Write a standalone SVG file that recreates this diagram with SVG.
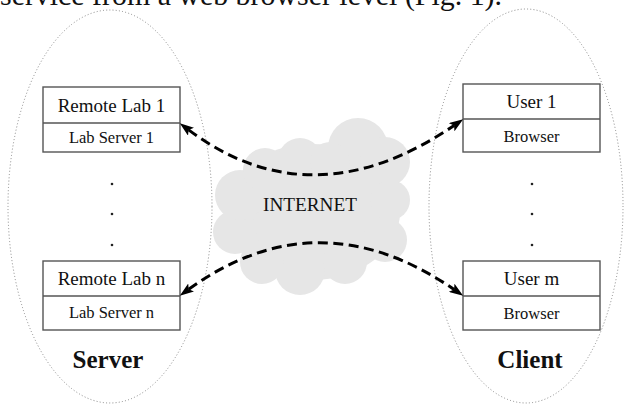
<svg xmlns="http://www.w3.org/2000/svg" width="626" height="405" viewBox="0 0 626 405">
  <style>
    .serif { font-family: "Liberation Serif", "Times New Roman", serif; fill: #111; }
    .box { fill: #fff; stroke: #555; stroke-width: 1.4; }
    .sep { stroke: #555; stroke-width: 1.4; }
    .main { font-size: 19px; text-anchor: middle; }
    .sub { font-size: 16.5px; text-anchor: middle; }
    .side { font-size: 25px; font-weight: bold; text-anchor: middle; }
    .zone { fill: none; stroke: #888; stroke-width: 1; stroke-dasharray: 1 2.2; }
    .cloud { fill: #e6e6e6; }
    .link { fill: none; stroke: #000; stroke-width: 3; stroke-dasharray: 10 5.5; }
    .dot { fill: #222; }
  </style>
  <defs>
    <marker id="arrow" viewBox="0 0 14 10" markerWidth="14" markerHeight="10" refX="3" refY="5" orient="auto-start-reverse" markerUnits="userSpaceOnUse">
      <path d="M0,0 L14,5 L0,10 L3,5 z" fill="#000"/>
    </marker>
  </defs>

  <rect width="626" height="405" fill="#fff"/>

  <!-- running text line above the figure, clipped by the page edge -->
  <text class="serif" x="0" y="5" font-size="29" textLength="502" lengthAdjust="spacingAndGlyphs">service from a web browser level (Fig. 1).</text>

  <!-- server and client zones -->
  <ellipse class="zone" cx="110" cy="206.5" rx="102" ry="196.5"/>
  <ellipse class="zone" cx="526" cy="206" rx="97" ry="197"/>

  <!-- internet cloud -->
  <g id="internet">
    <g class="cloud">
      <ellipse cx="312" cy="212" rx="88" ry="68"/>
      <circle cx="358" cy="148" r="30"/>
      <circle cx="385" cy="162" r="25"/>
      <circle cx="390" cy="200" r="20"/>
      <circle cx="385" cy="240" r="22"/>
      <circle cx="345" cy="262" r="22"/>
      <circle cx="300" cy="270" r="25"/>
      <circle cx="262" cy="262" r="22"/>
      <circle cx="235" cy="232" r="22"/>
      <circle cx="240" cy="195" r="25"/>
      <circle cx="265" cy="170" r="22"/>
      <circle cx="300" cy="160" r="22"/>
      <circle cx="330" cy="162" r="20"/>
    </g>
    <text class="serif" x="310" y="211" font-size="19.2" text-anchor="middle" fill="#222">INTERNET</text>
  </g>

  <!-- lab server nodes -->
  <g id="lab1">
    <rect class="box" x="43" y="87" width="137" height="65"/>
    <line class="sep" x1="43" y1="123" x2="180" y2="123"/>
    <text class="serif main" x="111.5" y="112">Remote Lab 1</text>
    <text class="serif sub" x="111.5" y="143">Lab Server 1</text>
  </g>
  <g id="labn">
    <rect class="box" x="43" y="261" width="137" height="69"/>
    <line class="sep" x1="43" y1="296" x2="180" y2="296"/>
    <text class="serif main" x="111.5" y="285">Remote Lab n</text>
    <text class="serif sub" x="111.5" y="318">Lab Server n</text>
  </g>

  <!-- client nodes -->
  <g id="user1">
    <rect class="box" x="463" y="84" width="137" height="68"/>
    <line class="sep" x1="463" y1="119" x2="600" y2="119"/>
    <text class="serif main" x="531.5" y="108">User 1</text>
    <text class="serif sub" x="531.5" y="142">Browser</text>
  </g>
  <g id="userm">
    <rect class="box" x="463" y="261" width="137" height="69"/>
    <line class="sep" x1="463" y1="296" x2="600" y2="296"/>
    <text class="serif main" x="531.5" y="285">User m</text>
    <text class="serif sub" x="531.5" y="319">Browser</text>
  </g>

  <!-- ellipsis dots between the node rows -->
  <g id="ellipsis">
    <circle class="dot" cx="112" cy="184" r="1.3"/>
    <circle class="dot" cx="112" cy="214" r="1.3"/>
    <circle class="dot" cx="112" cy="245" r="1.3"/>
    <circle class="dot" cx="532" cy="184" r="1.3"/>
    <circle class="dot" cx="532" cy="214" r="1.3"/>
    <circle class="dot" cx="532" cy="245" r="1.3"/>
  </g>

  <!-- zone labels -->
  <text class="serif side" x="108" y="368">Server</text>
  <text class="serif side" x="530" y="368">Client</text>

  <!-- two-way links through the internet -->
  <g id="connectors">
    <path class="link" d="M188.6,129.9 Q312,222 454.1,125.5" marker-start="url(#arrow)" marker-end="url(#arrow)"/>
    <path class="link" d="M188.7,289.3 Q318,196 454.1,289.5" marker-start="url(#arrow)" marker-end="url(#arrow)"/>
  </g>
</svg>
